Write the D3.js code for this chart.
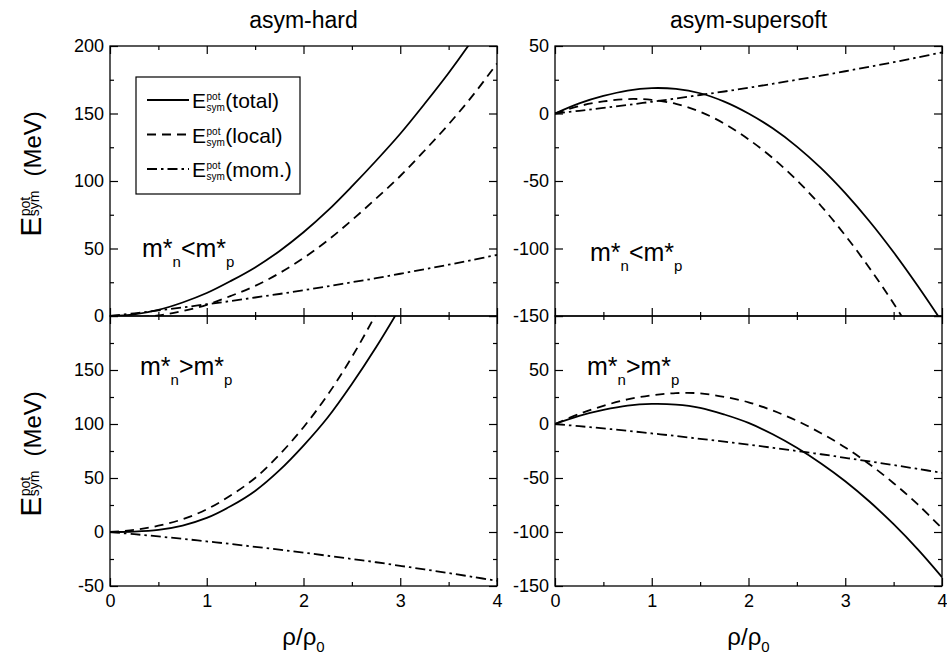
<!DOCTYPE html>
<html>
<head>
<meta charset="utf-8">
<script src="https://cdn.jsdelivr.net/npm/d3@7"></script>
<style>
  body { margin: 0; background: #fff; }
  svg { font-family: "Liberation Sans", Arial, sans-serif; }
  .tick text { font-size: 18px; fill: #000; }
  .tick line { stroke: #000; stroke-width: 1.2; }
</style>
</head>
<body>
<svg id="chart" width="947" height="663"></svg>
<script>
// density rho/rho0
const rho = [0, 0.25, 0.5, 0.75, 1, 1.25, 1.5, 1.75, 2, 2.25, 2.5, 2.75, 3, 3.25, 3.5, 3.75, 4];

// momentum dependent part, m*n<m*p (the m*n>m*p case is the mirror)
const momLt = [0, 2, 4.1, 6.3, 8.7, 11.1, 13.7, 16.3, 19.1, 22, 25, 28, 31.3, 34.6, 38, 41.6, 45.2];
const momGt = [0, -2, -4.1, -6.3, -8.7, -11.1, -13.7, -16.3, -19.1, -22, -25, -28, -31.3, -34.6, -38, -41.6, -45.2];

// asym-hard
const hardLtTotal = [0, 1.2, 4.5, 10, 17, 26, 36, 48, 62, 78, 96, 115, 135, 157, 180, 205, 232];
const hardLtLocal = [0, -0.8, 0.4, 3.7, 8.3, 14.9, 22.3, 31.7, 42.9, 56, 71, 87, 103.7, 122.4, 142, 163.4, 187];
const hardGtTotal = [0, 0.4, 2, 6, 13, 24, 38, 57, 80, 106, 137, 171, 208];
const hardGtLocal = [0, 2, 5.8, 11.8, 21, 34, 50, 71.5, 97, 127, 162, 202, 246];

// asym-supersoft
const softLtTotal = [0, 7.5, 13, 17, 18.8, 18.2, 15, 8.8, 0, -11, -24.5, -40.5, -59, -79.8, -102.8, -127.8, -154.3];
const softLtLocal = [0, 5.5, 8.9, 10.7, 10.1, 7.1, 1.3, -7.5, -19.1, -33, -49.5, -68.5, -90.3, -114.4, -140.8, -169.4];
const softGtTotal = [0, 7.5, 13, 17, 18.6, 18, 15, 8.8, 1, -9.5, -22, -36.5, -53, -71.8, -92.8, -116.1, -141.8];
const softGtLocal = [0, 9.3, 16.8, 22.8, 26.6, 28.6, 28.4, 25.1, 20.1, 12.5, 3, -8.5, -21.7, -37.2, -54.8, -74.5, -96.6];

// ticks
const xMajor = [0, 1, 2, 3, 4];
const xMinor = [0.5, 1.5, 2.5, 3.5];
const yMajorTL = [0, 50, 100, 150, 200], yMinorTL = [25, 75, 125, 175], yLabelTL = [0, 50, 100, 150, 200];
const yMajorBL = [-50, 0, 50, 100, 150, 200], yMinorBL = [-25, 25, 75, 125, 175], yLabelBL = [-50, 0, 50, 100, 150];
const yMajorTR = [-150, -100, -50, 0, 50], yMinorTR = [-125, -75, -25, 25], yLabelTR = [-150, -100, -50, 0, 50];
const yMajorBR = [-150, -100, -50, 0, 50, 100], yMinorBR = [-125, -75, -25, 25, 75], yLabelBR = [-150, -100, -50, 0, 50];

const titles = ["asym-hard", "asym-supersoft"];
const legendNames = ["(total)", "(local)", "(mom.)"];
const notes = ["<", ">"];

const svg = d3.select("#chart");
const dashes = [null, "9,6", "10,4,2.5,4"];

const xL = d3.scaleLinear().domain([0, 4]).range([110, 497]);
const xR = d3.scaleLinear().domain([0, 4]).range([555, 942]);

const panels = [
  {x: xL, y: d3.scaleLinear().domain([0, 200]).range([316, 46]), maj: yMajorTL, min: yMinorTL, lab: yLabelTL,
   series: [hardLtTotal, hardLtLocal, momLt], bottom: false, note: [142, 257, notes[0]]},
  {x: xL, y: d3.scaleLinear().domain([-50, 200]).range([586, 316]), maj: yMajorBL, min: yMinorBL, lab: yLabelBL,
   series: [hardGtTotal, hardGtLocal, momGt], bottom: true, note: [140, 375, notes[1]]},
  {x: xR, y: d3.scaleLinear().domain([-150, 50]).range([316, 46]), maj: yMajorTR, min: yMinorTR, lab: yLabelTR,
   series: [softLtTotal, softLtLocal, momLt], bottom: false, note: [590, 261, notes[0]]},
  {x: xR, y: d3.scaleLinear().domain([-150, 100]).range([586, 316]), maj: yMajorBR, min: yMinorBR, lab: yLabelBR,
   series: [softGtTotal, softGtLocal, momGt], bottom: true, note: [587, 375, notes[1]]}
];

// E^pot_sym with stacked super/subscript, drawn at baseline 0
function eSym(g, size, sub, subY, rest, restSize, gap) {
  const e = g.append("text").attr("font-size", size).text("E");
  const we = e.node().getComputedTextLength() + 0.5;
  const p = g.append("text").attr("x", we).attr("y", -0.716 * size + 0.72 * sub).attr("font-size", sub).text("pot");
  const s = g.append("text").attr("x", we).attr("y", subY).attr("font-size", sub).text("sym");
  const ws = Math.max(p.node().getComputedTextLength(), s.node().getComputedTextLength());
  const r = g.append("text").attr("x", we + ws + gap).attr("font-size", restSize).text(rest);
  return we + ws + gap + r.node().getComputedTextLength();
}

panels.forEach((p, i) => {
  const [x0, x1] = p.x.range();
  const [y0, y1] = p.y.range();
  const g = svg.append("g");

  const clipId = "clip" + i;
  svg.append("clipPath").attr("id", clipId)
     .append("rect").attr("x", x0).attr("y", y1).attr("width", x1 - x0).attr("height", y0 - y1);

  // curves
  const line = d3.line()
                 .x((d, j) => p.x(rho[j]))
                 .y(d => p.y(d))
                 .curve(d3.curveCatmullRom.alpha(0.5));
  p.series.forEach((s, k) => {
    g.append("path")
     .attr("d", line(s))
     .attr("clip-path", "url(#" + clipId + ")")
     .attr("fill", "none")
     .attr("stroke", "#000")
     .attr("stroke-width", 1.8)
     .attr("stroke-dasharray", dashes[k]);
  });

  // axes, ticks pointing inward
  const fmt = d => String(d);
  const addAxis = (axis, tr) => {
    const a = g.append("g").attr("transform", tr).call(axis);
    a.select(".domain").remove();
    return a;
  };
  addAxis(d3.axisBottom(p.x).tickValues(xMajor).tickSize(-8).tickPadding(8)
            .tickFormat(p.bottom ? fmt : ""), "translate(0," + y0 + ")");
  addAxis(d3.axisBottom(p.x).tickValues(xMinor).tickSize(-4).tickFormat(""), "translate(0," + y0 + ")");
  addAxis(d3.axisTop(p.x).tickValues(xMajor).tickSize(-8).tickFormat(""), "translate(0," + y1 + ")");
  addAxis(d3.axisTop(p.x).tickValues(xMinor).tickSize(-4).tickFormat(""), "translate(0," + y1 + ")");
  addAxis(d3.axisLeft(p.y).tickValues(p.maj).tickSize(-8).tickPadding(6)
            .tickFormat(d => p.lab.includes(d) ? String(d) : ""), "translate(" + x0 + ",0)");
  addAxis(d3.axisLeft(p.y).tickValues(p.min).tickSize(-4).tickFormat(""), "translate(" + x0 + ",0)");
  addAxis(d3.axisRight(p.y).tickValues(p.maj).tickSize(-8).tickFormat(""), "translate(" + x1 + ",0)");
  addAxis(d3.axisRight(p.y).tickValues(p.min).tickSize(-4).tickFormat(""), "translate(" + x1 + ",0)");

  g.append("rect")
   .attr("x", x0).attr("y", y1).attr("width", x1 - x0).attr("height", y0 - y1)
   .attr("fill", "none").attr("stroke", "#000").attr("stroke-width", 1.3);

  // m*n <> m*p
  const t = svg.append("text").attr("x", p.note[0]).attr("y", p.note[1]).attr("font-size", 25);
  t.append("tspan").text("m*");
  t.append("tspan").attr("font-size", 15).attr("dy", 10).text("n");
  t.append("tspan").attr("dy", -10).text(p.note[2] + "m*");
  t.append("tspan").attr("font-size", 15).attr("dy", 10).text("p");
});

// column titles and x axis titles
[xL, xR].forEach((x, i) => {
  const cx = (x.range()[0] + x.range()[1]) / 2;
  svg.append("text").attr("x", cx).attr("y", 28).attr("text-anchor", "middle")
     .attr("font-size", 23).text(titles[i]);
  const t = svg.append("text").attr("x", cx).attr("y", 645).attr("text-anchor", "middle").attr("font-size", 24);
  t.append("tspan").text("ρ/ρ");
  t.append("tspan").attr("font-size", 15).attr("dy", 7).text("0");
});

// y axis titles
[174, 454].forEach(cy => {
  const outer = svg.append("g").attr("transform", "translate(41," + cy + ") rotate(-90)");
  const inner = outer.append("g");
  const w = eSym(inner, 30, 14, -2, "(MeV)", 24, 14);
  inner.attr("transform", "translate(" + (-w / 2) + ",0)");
});

// legend
svg.append("rect").attr("x", 136).attr("y", 77).attr("width", 164).attr("height", 117)
   .attr("fill", "#fff").attr("stroke", "#000").attr("stroke-width", 1.2);
legendNames.forEach((name, k) => {
  const ly = 100 + k * 34.5;
  svg.append("line").attr("x1", 147).attr("x2", 189).attr("y1", ly).attr("y2", ly)
     .attr("stroke", "#000").attr("stroke-width", 1.8).attr("stroke-dasharray", dashes[k]);
  const g = svg.append("g").attr("transform", "translate(192," + (ly + 8) + ")");
  eSym(g, 21, 10, 3, name, 21, 0.5);
});
</script>
</body>
</html>
